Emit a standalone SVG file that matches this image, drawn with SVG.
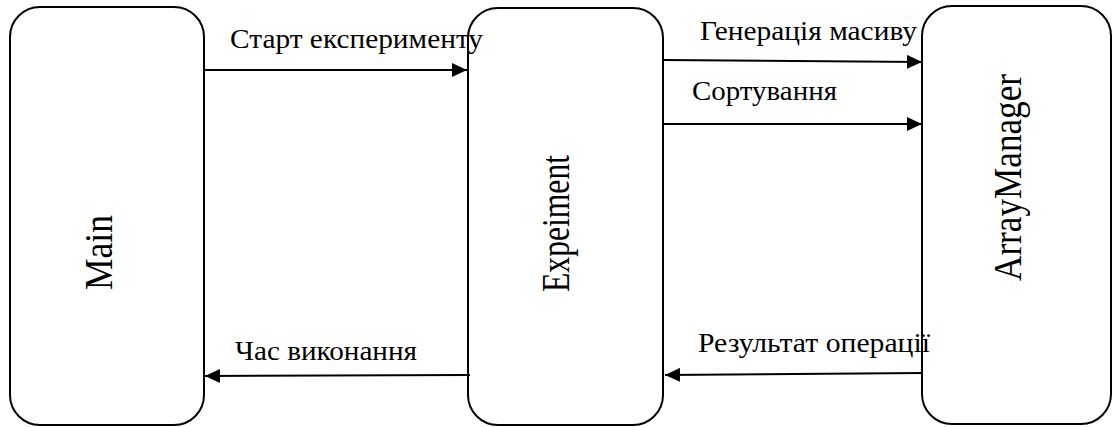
<svg xmlns="http://www.w3.org/2000/svg" width="1113" height="427" viewBox="0 0 1113 427">
<style>
.box{fill:#fff;stroke:#000;stroke-width:2}
.lbl{font-family:"Liberation Serif","Times New Roman",serif;font-size:28px;fill:#000}
.big{font-family:"Liberation Serif","Times New Roman",serif;font-size:40px;fill:#000}
.conn{stroke:#000;stroke-width:2;fill:none}
</style>
<defs>
<marker id="ah" viewBox="0 0 15 14" refX="15" refY="7" markerWidth="15" markerHeight="14" markerUnits="userSpaceOnUse" orient="auto">
<path d="M0,0 L15,7 L0,14 Z" fill="#000"/>
</marker>
</defs>
<rect width="1113" height="427" fill="#fff"/>
<g id="main">
<rect class="box" x="10" y="7" width="194" height="418" rx="30"/>
<text class="big" transform="translate(112,290) rotate(-90)" textLength="75" lengthAdjust="spacingAndGlyphs">Main</text>
</g>
<g id="experiment">
<rect class="box" x="468" y="8" width="195" height="417" rx="30"/>
<text class="big" transform="translate(569,292) rotate(-90)" textLength="137" lengthAdjust="spacingAndGlyphs">Expeiment</text>
</g>
<g id="arraymanager">
<rect class="box" x="922" y="6" width="189" height="418" rx="30"/>
<text class="big" transform="translate(1021,281) rotate(-90)" textLength="207" lengthAdjust="spacingAndGlyphs">ArrayManager</text>
</g>
<g id="connectors">
<line class="conn" x1="204" y1="70" x2="467" y2="70" marker-end="url(#ah)"/>
<line class="conn" x1="663" y1="60" x2="922" y2="62" marker-end="url(#ah)"/>
<line class="conn" x1="663" y1="124" x2="922" y2="124" marker-end="url(#ah)"/>
<line class="conn" x1="470" y1="375" x2="205" y2="376" marker-end="url(#ah)"/>
<line class="conn" x1="923" y1="373" x2="665" y2="375" marker-end="url(#ah)"/>
</g>
<g id="labels">
<text class="lbl" x="230" y="48" textLength="253" lengthAdjust="spacingAndGlyphs">Старт експерименту</text>
<text class="lbl" x="700" y="40" textLength="217" lengthAdjust="spacingAndGlyphs">Генерація масиву</text>
<text class="lbl" x="692" y="100" textLength="145" lengthAdjust="spacingAndGlyphs">Сортування</text>
<text class="lbl" x="235" y="360" textLength="182" lengthAdjust="spacingAndGlyphs">Час виконання</text>
<text class="lbl" x="698" y="352" textLength="232" lengthAdjust="spacingAndGlyphs">Результат операції</text>
</g>
</svg>
